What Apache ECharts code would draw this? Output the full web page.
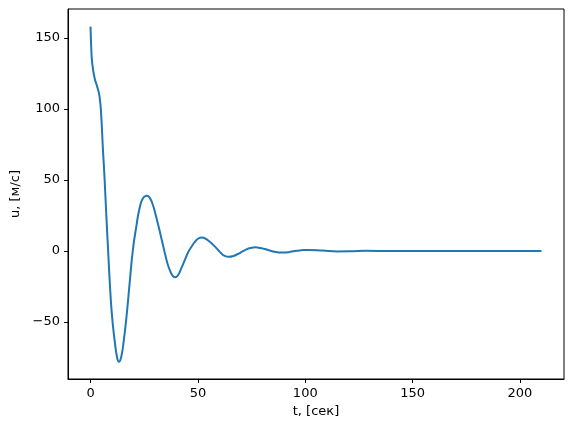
<!DOCTYPE html>
<html>
<head>
<meta charset="utf-8">
<script src="https://cdn.jsdelivr.net/npm/echarts@6/dist/echarts.min.js"></script>
<style>
  html, body { margin: 0; padding: 0; background: #fff; }
  #chart { width: 574px; height: 432px; }
</style>
</head>
<body>
<div id="chart"></div>
<script>
// время, сек
const tVals = [0, 0.3, 0.8, 1.9, 3.1, 4.2, 5.0, 5.7, 6.5, 7.3, 8.1, 8.9, 9.9, 11.2, 12.3, 13.2,
  14.3, 15.5, 16.9, 18.2, 19.7, 21.3, 22.8, 24.4, 26.2, 27.5, 29.0, 30.2, 31.4, 32.6, 33.7, 35.0,
  36.0, 37.2, 38.2, 39.4, 40.8, 42.3, 44.0, 45.4, 47.0, 48.5, 50.2, 51.9, 53.5, 55.5, 57.5,
  59.3, 60.7, 62.0, 64.5, 66.5, 68.6, 70.6, 72.6, 74.7, 76.8, 79.0, 81.1, 83.4, 85.7, 87.8,
  89.8, 92.4, 95.1, 98.0, 101.5, 108, 115, 121, 128, 140, 160, 185, 210];
// скорость, м/с
const uVals = [158, 144, 132, 121.6, 115.7, 108.7, 94.6, 73.5, 52, 26.5, 3, -20.4, -43.9, -62.7, -74.4, -78,
  -74.4, -62.7, -43.9, -22.8, 0.7, 17.1, 30, 37.1, 38.9, 37.6, 32.6, 26.2, 19.0, 11.5, 4.4, -3.9,
  -9.7, -14.5, -17.3, -18.5, -16.9, -12.0, -6.0, -1.0, 3.0, 6.2, 8.8, 9.6, 8.7, 6.5, 3.8,
  0.9, -1.4, -3.0, -4.1, -3.5, -2.1, -0.5, 1.2, 2.2, 2.6, 2.2, 1.4, 0.4, -0.5, -1.0,
  -1.1, -0.8, 0, 0.5, 0.8, 0.3, -0.3, -0.2, 0.2, 0, 0, 0, 0];
const xTicks = [0, 50, 100, 150, 200];
const yTicks = [-50, 0, 50, 100, 150];

const chart = echarts.init(document.getElementById("chart"));
const font = "DejaVu Sans";

const option = {
  animation: false,
  grid: {
    left: 68,
    right: 10,
    top: 9,
    bottom: 53,
    show: true,
    borderColor: "#000",
    borderWidth: 1,
  },
  xAxis: {
    type: "value",
    min: -10.5,
    max: 220.5,
    name: "t, [сек]",
    nameLocation: "middle",
    nameGap: 22,
    nameTextStyle: { fontFamily: font, fontSize: 13, color: "#000" },
    splitLine: { show: false },
    axisLine: { show: true, onZero: false, lineStyle: { color: "#000", width: 1 } },
    axisTick: { show: true, length: 4, customValues: xTicks, lineStyle: { color: "#000" } },
    axisLabel: {
      customValues: xTicks,
      margin: 8,
      fontFamily: font,
      fontSize: 13,
      color: "#000",
      formatter: (v) => String(v),
    },
  },
  yAxis: {
    type: "value",
    min: -90.1,
    max: 170.4,
    name: "u, [м/с]",
    nameLocation: "middle",
    nameRotate: 90,
    nameGap: 45,
    nameTextStyle: { fontFamily: font, fontSize: 13, color: "#000" },
    splitLine: { show: false },
    axisLine: { show: true, onZero: false, lineStyle: { color: "#000", width: 1 } },
    axisTick: { show: true, length: 4, customValues: yTicks, lineStyle: { color: "#000" } },
    axisLabel: {
      customValues: yTicks,
      margin: 8,
      fontFamily: font,
      fontSize: 13,
      color: "#000",
      formatter: (v) => (v < 0 ? "\u2212" + Math.abs(v) : String(v)),
    },
  },
  series: [
    {
      type: "line",
      data: tVals.map((t, i) => [t, uVals[i]]),
      showSymbol: false,
      smooth: 0.5,
      lineStyle: { color: "#1f77b4", width: 2 },
    },
  ],
};
chart.setOption(option);
</script>
</body>
</html>
